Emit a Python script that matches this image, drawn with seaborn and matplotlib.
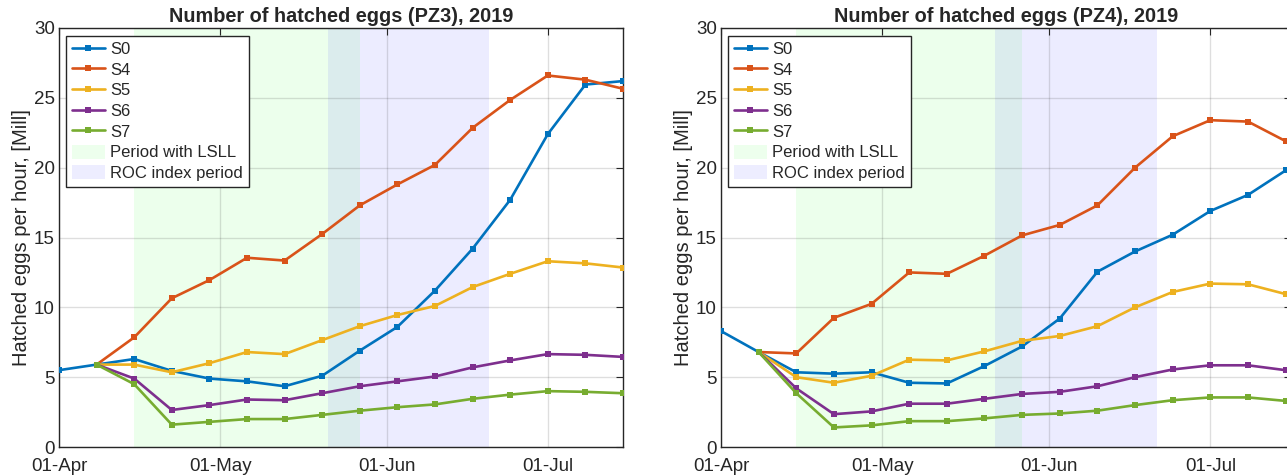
import seaborn as sns
import matplotlib.pyplot as plt
import matplotlib.dates as mdates
from matplotlib.patches import Patch
from matplotlib.lines import Line2D
import pandas as pd
import numpy as np

# weekly sampling dates
dates = ['2019-04-01', '2019-04-08', '2019-04-15', '2019-04-22', '2019-04-29',
         '2019-05-06', '2019-05-13', '2019-05-20', '2019-05-27', '2019-06-03',
         '2019-06-10', '2019-06-17', '2019-06-24', '2019-07-01', '2019-07-08',
         '2019-07-15']
series_names = ['S0', 'S4', 'S5', 'S6', 'S7']
colors = ['#0072BD', '#D95319', '#EDB120', '#7E2F8E', '#77AC30']

# PZ3
pz3_s0 = [5.5, 5.9, 6.3, 5.45, 4.9, 4.7, 4.35, 5.1, 6.9, 8.6, 11.2, 14.2, 17.7, 22.4, 25.95, 26.2]
pz3_s4 = [np.nan, 5.9, 7.85, 10.65, 11.95, 13.55, 13.35, 15.25, 17.3, 18.8, 20.2, 22.85, 24.85, 26.6, 26.3, 25.65]
pz3_s5 = [np.nan, 5.9, 5.9, 5.35, 6.0, 6.8, 6.65, 7.65, 8.65, 9.45, 10.1, 11.45, 12.4, 13.3, 13.15, 12.85]
pz3_s6 = [np.nan, 5.9, 4.9, 2.65, 3.0, 3.4, 3.35, 3.85, 4.35, 4.7, 5.05, 5.7, 6.2, 6.65, 6.6, 6.45]
pz3_s7 = [np.nan, 5.9, 4.5, 1.6, 1.8, 2.0, 2.0, 2.3, 2.6, 2.85, 3.05, 3.45, 3.75, 4.0, 3.95, 3.85]

# PZ4
pz4_s0 = [8.3, 6.8, 5.35, 5.25, 5.35, 4.6, 4.55, 5.8, 7.2, 9.2, 12.55, 14.0, 15.2, 16.9, 18.05, 19.8]
pz4_s4 = [np.nan, 6.8, 6.7, 9.25, 10.25, 12.5, 12.4, 13.7, 15.15, 15.9, 17.3, 20.0, 22.25, 23.4, 23.3, 21.9]
pz4_s5 = [np.nan, 6.8, 5.0, 4.6, 5.1, 6.25, 6.2, 6.85, 7.6, 7.95, 8.65, 10.0, 11.1, 11.7, 11.65, 10.95]
pz4_s6 = [np.nan, 6.8, 4.2, 2.35, 2.55, 3.1, 3.1, 3.45, 3.8, 3.95, 4.35, 5.0, 5.55, 5.85, 5.85, 5.5]
pz4_s7 = [np.nan, 6.8, 3.85, 1.4, 1.55, 1.85, 1.85, 2.05, 2.3, 2.4, 2.6, 3.0, 3.35, 3.55, 3.55, 3.3]

lsll_pz3 = ('2019-04-15', '2019-05-27')
roc_pz3 = ('2019-05-21', '2019-06-20')
lsll_pz4 = ('2019-04-15', '2019-05-27')
roc_pz4 = ('2019-05-22', '2019-06-21')

sns.set_theme(style='white')
plt.rcParams['font.family'] = ['Liberation Sans', 'DejaVu Sans']


def make_df(values):
    frames = []
    for name, vals in zip(series_names, values):
        frames.append(pd.DataFrame({'date': pd.to_datetime(dates), 'value': vals, 'series': name}))
    return pd.concat(frames, ignore_index=True).dropna()


def draw_panel(ax, df, title, lsll, roc, x_end):
    ax.axvspan(pd.Timestamp(lsll[0]), pd.Timestamp(lsll[1]), color=(0.3, 1.0, 0.3), alpha=0.1, lw=0, zorder=1)
    ax.axvspan(pd.Timestamp(roc[0]), pd.Timestamp(roc[1]), color=(0.3, 0.3, 1.0), alpha=0.1, lw=0, zorder=1)
    sns.lineplot(data=df, x='date', y='value', hue='series', hue_order=series_names,
                 palette=colors, marker='s', markersize=4.5, markeredgewidth=0,
                 linewidth=1.9, legend=False, ax=ax, zorder=3)
    ax.set_xlim(pd.Timestamp('2019-04-01'), pd.Timestamp(x_end))
    ax.set_ylim(0, 30)
    ax.set_yticks(np.arange(0, 31, 5))
    ax.xaxis.set_major_locator(mdates.MonthLocator())
    ax.xaxis.set_major_formatter(mdates.DateFormatter('%d-%b'))
    ax.grid(True, color='#262626', alpha=0.15, lw=1.0, zorder=2)
    ax.set_axisbelow('line')
    ax.set_xlabel('')
    ax.set_ylabel('Hatched eggs per hour, [Mill]', fontsize=14.5, labelpad=2)
    ax.set_title(title, fontsize=14.3, fontweight='bold', pad=4)
    ax.tick_params(direction='in', top=True, right=True, length=5, width=0.8,
                   labelsize=13.5, colors='#262626', pad=3)
    ax.tick_params(axis='x', pad=8)
    for sp in ax.spines.values():
        sp.set_color('#262626')
        sp.set_linewidth(1.0)

    handles = [Line2D([0], [0], color=c, lw=1.9, marker='s', markersize=4.5, markeredgewidth=0)
               for c in colors]
    handles += [Patch(facecolor=(0.93, 1.0, 0.93), edgecolor='none'),
                Patch(facecolor=(0.93, 0.93, 1.0), edgecolor='none')]
    labels = series_names + ['Period with LSLL', 'ROC index period']
    leg = ax.legend(handles, labels, loc='upper left', bbox_to_anchor=(0.012, 0.982),
                    borderaxespad=0, fontsize=12, frameon=True, fancybox=False,
                    framealpha=1, edgecolor='#262626', handlelength=2.0,
                    handleheight=0.9, handletextpad=0.3, labelspacing=0.3,
                    borderpad=0.35)
    leg.get_frame().set_linewidth(1.0)


fig = plt.figure(figsize=(12.87, 4.76), dpi=100)
ax1 = fig.add_axes([59 / 1287, 29 / 476, 564 / 1287, 419 / 476])
ax2 = fig.add_axes([721 / 1287, 29 / 476, 570 / 1287, 419 / 476])

draw_panel(ax1, make_df([pz3_s0, pz3_s4, pz3_s5, pz3_s6, pz3_s7]),
           'Number of hatched eggs (PZ3), 2019', lsll_pz3, roc_pz3, '2019-07-15')
draw_panel(ax2, make_df([pz4_s0, pz4_s4, pz4_s5, pz4_s6, pz4_s7]),
           'Number of hatched eggs (PZ4), 2019', lsll_pz4, roc_pz4, '2019-07-16')

fig.savefig('out.png', dpi=100)
